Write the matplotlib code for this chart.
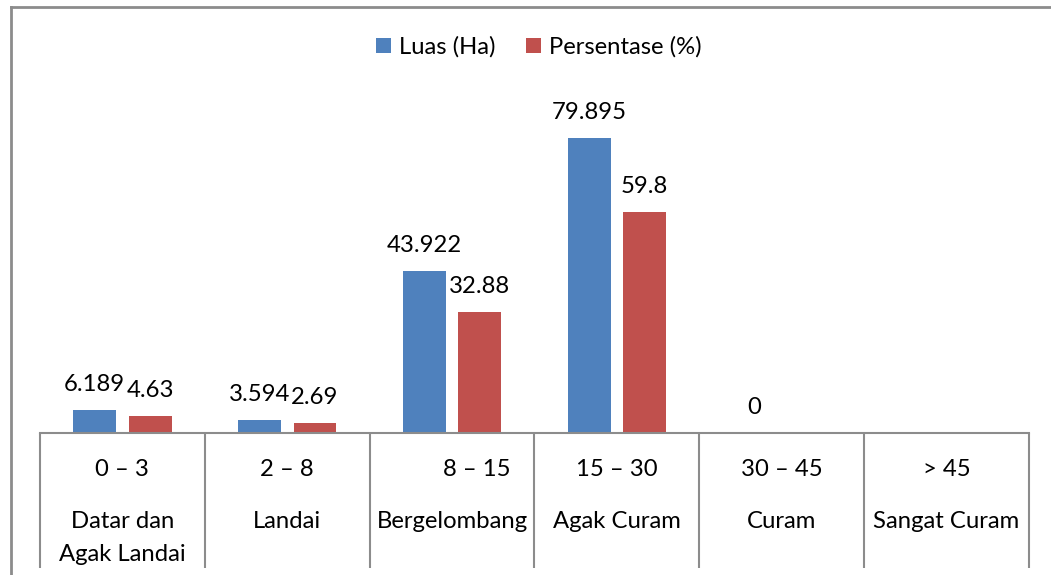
import numpy as np
import matplotlib
matplotlib.use("Agg")
import matplotlib.pyplot as plt
from matplotlib.lines import Line2D

plt.rcParams['font.family'] = ['Lato', 'DejaVu Sans']

# data
kelas_lereng = ["0 – 3", "2 – 8", "        8 – 15", "15 – 30", "30 – 45", "> 45"]
nama_kelas = ["Datar dan\nAgak Landai", "Landai", "Bergelombang", "Agak Curam", "Curam", "Sangat Curam"]
luas_ha = [6.189, 3.594, 43.922, 79.895, 0, np.nan]
persentase = [4.63, 2.69, 32.88, 59.8, np.nan, np.nan]

blue = "#4F81BD"
red = "#C0504D"
grid_col = "#8C8C8C"
fs = 17.2

W, H = 1051, 575
fig = plt.figure(figsize=(W / 100, H / 100), dpi=100)

# chart frame (only top and left visible in the crop)
fig.add_artist(Line2D([10.5 / W, 10.5 / W], [0, 1 - 7 / H], color=grid_col, lw=2))
fig.add_artist(Line2D([10.5 / W, 1], [1 - 7 / H, 1 - 7 / H], color=grid_col, lw=2))

ax_left, ax_right = 40 / W, 1029 / W
ax_base, ax_top = 433, 100.7
ax = fig.add_axes([ax_left, (H - ax_base) / H, ax_right - ax_left, (ax_base - ax_top) / H])

x = np.arange(len(kelas_lereng))
bw = 0.26
off = 0.168
b1 = ax.bar(x - off, luas_ha, bw, color=blue, label="Luas (Ha)")
b2 = ax.bar(x + off, persentase, bw, color=red, label="Persentase (%)")

for bars, vals in ((b1, luas_ha), (b2, persentase)):
    for rect, v in zip(bars, vals):
        if np.isnan(v):
            continue
        ax.annotate(f"{v:g}", (rect.get_x() + rect.get_width() / 2, rect.get_height()),
                    xytext=(0, 13.5), textcoords="offset points",
                    ha="center", va="baseline", fontsize=fs)

ax.set_xlim(-0.5, len(x) - 0.5)
ax.set_ylim(0, 90)
for s in ["top", "right", "left"]:
    ax.spines[s].set_visible(False)
ax.spines["bottom"].set_color(grid_col)
ax.spines["bottom"].set_linewidth(1.5)
ax.set_xticks([])
ax.set_yticks([])

# table-like category cells under the axis
axh = ax_base - ax_top
tr = ax.get_xaxis_transform()
ax.vlines(np.arange(len(x) + 1) - 0.5, 0, -(568 - ax_base) / axh, colors=grid_col,
          lw=1.5, transform=tr, clip_on=False)
for i in x:
    ax.text(i, -(476 - ax_base) / axh, kelas_lereng[i], transform=tr,
            ha="center", va="baseline", fontsize=fs)
    for k, line in enumerate(nama_kelas[i].split("\n")):
        ax.text(i, -(528 + 33 * k - ax_base) / axh, line, transform=tr,
                ha="center", va="baseline", fontsize=fs)

leg = ax.legend(loc="center", bbox_to_anchor=(539 / W, 1 - 47 / H), bbox_transform=fig.transFigure,
                ncol=2, frameon=False, fontsize=fs, handlelength=0.6, handleheight=0.6,
                handletextpad=0.35, columnspacing=1.3)

fig.savefig("out.png", dpi=100)
